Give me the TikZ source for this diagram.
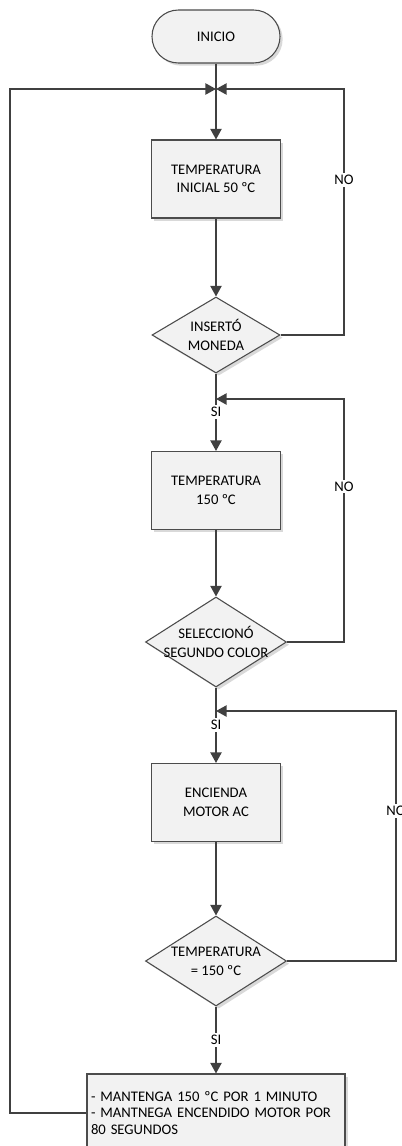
\documentclass[tikz,border=0pt]{standalone}
\usepackage{fontspec}
\setmainfont{Carlito}
\usetikzlibrary{arrows.meta,shapes.geometric,shadows}

\begin{document}
\begin{tikzpicture}[x=0.75pt, y=-0.75pt,
	font=\fontsize{11}{14}\selectfont,
	box/.style={draw=black!70, fill=black!5, line width=0.8pt, inner sep=0pt,
		drop shadow={shadow xshift=2pt, shadow yshift=-2pt, fill=black!15, opacity=1}},
	process/.style={box, minimum width=96.75pt, minimum height=58.5pt, align=center},
	decision/.style={box, diamond, minimum width=105.75pt, minimum height=67.5pt},
	terminal/.style={box, rounded corners=19.8pt, minimum width=96pt, minimum height=39.75pt},
	flow/.style={draw=black!75, line width=1.1pt, -{Triangle[length=8pt,width=8.5pt]}},
	lbl/.style={fill=white, inner sep=1.5pt}
	]
	\useasboundingbox (0,0) rectangle (402,1146);

	\node[terminal] (inicio) at (216,36.5) {INICIO};
	\node[process] (temp1) at (216,179) {TEMPERATURA\\INICIAL 50 ºC};
	\node[decision, minimum width=96pt, minimum height=57pt] (moneda) at (216,335) {};
	\node[align=center] (monedatxt) at (moneda) {INSERTÓ\\MONEDA};
	\node[process] (temp2) at (216,490.5) {TEMPERATURA\\150 ºC};
	\node[decision] (color) at (216,642) {};
	\node[align=center] (colortxt) at (color) {SELECCIONÓ\\SEGUNDO COLOR};
	\node[process] (motor) at (216,802.5) {ENCIENDA\\MOTOR AC};
	\node[decision] (temp3) at (216,961) {};
	\node[align=center] (temp3txt) at (temp3) {TEMPERATURA\\= 150 ºC};
	\node[box, minimum width=193.5pt, minimum height=58.5pt, text width=187.5pt,
		inner xsep=3pt, align=left, font=\fontsize{11}{12.5}\selectfont] (fin) at (216,1113)
		{- MANTENGA 150 ºC POR 1 MINUTO\\- MANTNEGA ENCENDIDO MOTOR POR\\80 SEGUNDOS};

	\coordinate (j1) at (216,89);
	\coordinate (j2) at (216,399);
	\coordinate (j3) at (216,711);
	\coordinate (r1) at (344,335);
	\coordinate (t1) at (344,89);
	\coordinate (r2) at (344,642);
	\coordinate (t2) at (344,399);
	\coordinate (r3) at (396,961);
	\coordinate (t3) at (396,711);
	\coordinate (l1) at (10,1113);
	\coordinate (l2) at (10,89);

	\draw[flow] (inicio) -- (temp1);
	\draw[flow] (temp1) -- (moneda);
	\draw[flow] (moneda) -- node[lbl] {SI} (temp2);
	\draw[flow] (temp2) -- (color);
	\draw[flow] (color) -- node[lbl] {SI} (motor);
	\draw[flow] (motor) -- (temp3);
	\draw[flow] (temp3) -- node[lbl] {SI} (fin);

	\draw[flow] (moneda.east) -- (r1) -- node[lbl, pos=0.63] {NO} (t1) -- (j1);
	\draw[flow] (color.east) -- (r2) -- node[lbl, pos=0.64] {NO} (t2) -- (j2);
	\draw[flow] (temp3.east) -- (r3) -- node[lbl, pos=0.6] {NO} (t3) -- (j3);
	\draw[flow] (fin.west) -- (l1) -- (l2) -- (j1);
\end{tikzpicture}
\end{document}
